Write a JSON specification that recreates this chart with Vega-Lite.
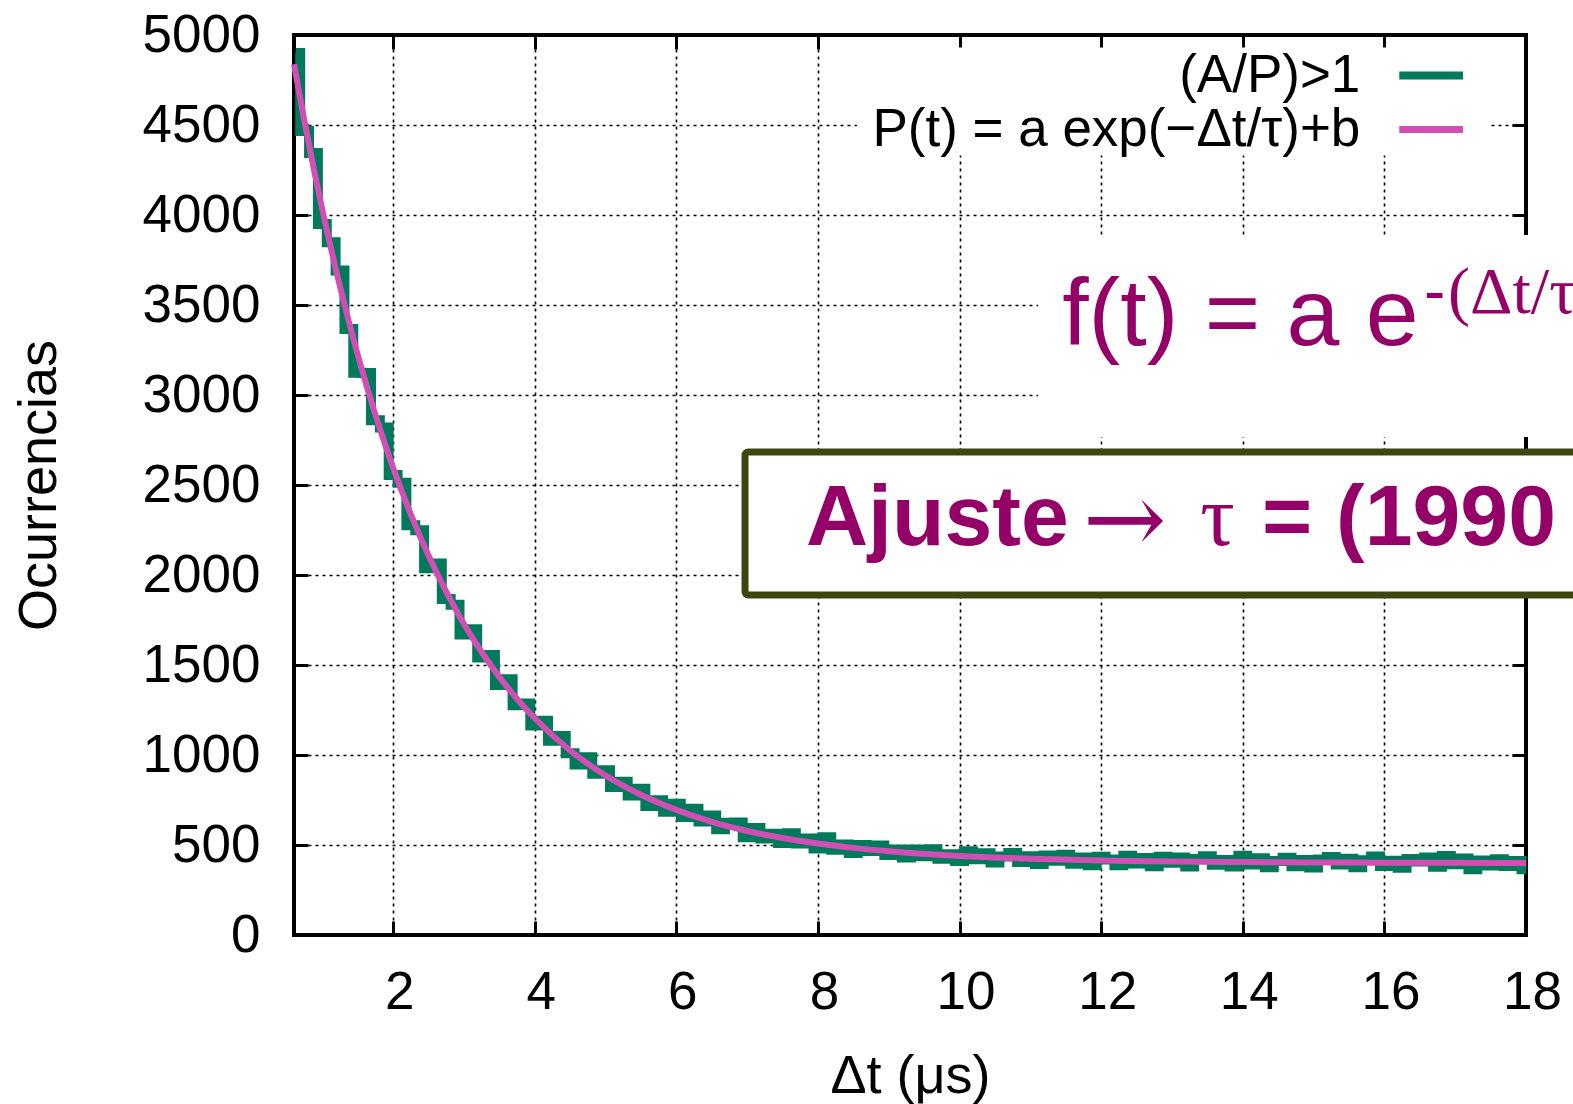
{
  "$schema": "https://vega.github.io/schema/vega-lite/v6.json",
  "width": 1232,
  "height": 900,
  "autosize": {"type": "none"},
  "padding": {"left": 294, "top": 35, "right": 47, "bottom": 169},
  "background": "white",
  "config": {
    "view": {"stroke": "black", "strokeWidth": 4},
    "font": "Liberation Sans",
    "axis": {
      "labelFont": "Liberation Sans", "labelFontSize": 53, "labelColor": "black",
      "tickColor": "black", "tickWidth": 3, "tickSize": -14, "domain": false,
      "titleFont": "Liberation Sans", "titleFontSize": 54, "titleFontWeight": "normal", "titleColor": "black",
      "gridColor": "black", "gridDash": [3, 4], "gridWidth": 1.6, "gridOpacity": 1
    }
  },
  "datasets": {
    "hist": [
      {"t":0.625,"n":4900},{"t":0.75,"n":4466},{"t":0.875,"n":4345},{"t":1.0,"n":3950},{"t":1.125,"n":3849},
      {"t":1.25,"n":3692},{"t":1.375,"n":3367},{"t":1.5,"n":3124},{"t":1.625,"n":3122},{"t":1.75,"n":2860},
      {"t":1.875,"n":2819},{"t":2.0,"n":2556},{"t":2.125,"n":2513},{"t":2.25,"n":2277},{"t":2.375,"n":2249},
      {"t":2.5,"n":2038},{"t":2.625,"n":2064},{"t":2.75,"n":1867},{"t":2.875,"n":1835},{"t":3.0,"n":1669},
      {"t":3.125,"n":1698},{"t":3.25,"n":1542},{"t":3.375,"n":1556},{"t":3.5,"n":1389},{"t":3.625,"n":1421},
      {"t":3.75,"n":1277},{"t":3.875,"n":1286},{"t":4.0,"n":1164},{"t":4.125,"n":1190},{"t":4.25,"n":1079},
      {"t":4.375,"n":1106},{"t":4.5,"n":1010},{"t":4.625,"n":947},{"t":4.75,"n":987},{"t":4.875,"n":896},
      {"t":5.0,"n":915},{"t":5.125,"n":822},{"t":5.25,"n":852},{"t":5.375,"n":775},{"t":5.5,"n":812},
      {"t":5.625,"n":716},{"t":5.75,"n":748},{"t":5.875,"n":685},{"t":6.0,"n":729},{"t":6.125,"n":655},
      {"t":6.25,"n":702},{"t":6.375,"n":630},{"t":6.5,"n":664},{"t":6.625,"n":587},{"t":6.75,"n":623},
      {"t":6.875,"n":625},{"t":7.0,"n":543},{"t":7.125,"n":595},{"t":7.25,"n":536},{"t":7.375,"n":562},
      {"t":7.5,"n":511},{"t":7.625,"n":565},{"t":7.75,"n":508},{"t":7.875,"n":536},{"t":8.0,"n":480},
      {"t":8.125,"n":543},{"t":8.25,"n":474},{"t":8.375,"n":503},{"t":8.5,"n":456},{"t":8.625,"n":500},
      {"t":8.75,"n":467},{"t":8.875,"n":497},{"t":9.0,"n":444},{"t":9.125,"n":475},{"t":9.25,"n":430},
      {"t":9.375,"n":475},{"t":9.5,"n":437},{"t":9.625,"n":476},{"t":9.75,"n":424},{"t":9.875,"n":449},
      {"t":10.0,"n":411},{"t":10.125,"n":465},{"t":10.25,"n":421},{"t":10.375,"n":454},{"t":10.5,"n":403},
      {"t":10.625,"n":436},{"t":10.75,"n":455},{"t":10.875,"n":405},{"t":11.0,"n":438},{"t":11.125,"n":394},
      {"t":11.25,"n":442},{"t":11.375,"n":413},{"t":11.5,"n":446},{"t":11.625,"n":396},{"t":11.75,"n":430},
      {"t":11.875,"n":387},{"t":12.0,"n":435},{"t":12.125,"n":420},{"t":12.25,"n":388},{"t":12.375,"n":440},
      {"t":12.5,"n":397},{"t":12.625,"n":428},{"t":12.75,"n":382},{"t":12.875,"n":435},{"t":13.0,"n":402},
      {"t":13.125,"n":430},{"t":13.25,"n":380},{"t":13.375,"n":422},{"t":13.5,"n":438},{"t":13.625,"n":390},
      {"t":13.75,"n":417},{"t":13.875,"n":381},{"t":14.0,"n":440},{"t":14.125,"n":391},{"t":14.25,"n":426},
      {"t":14.375,"n":376},{"t":14.5,"n":411},{"t":14.625,"n":429},{"t":14.75,"n":382},{"t":14.875,"n":417},
      {"t":15.0,"n":375},{"t":15.125,"n":419},{"t":15.25,"n":433},{"t":15.375,"n":391},{"t":15.5,"n":423},
      {"t":15.625,"n":376},{"t":15.75,"n":415},{"t":15.875,"n":436},{"t":16.0,"n":384},{"t":16.125,"n":412},
      {"t":16.25,"n":373},{"t":16.375,"n":422},{"t":16.5,"n":408},{"t":16.625,"n":431},{"t":16.75,"n":379},
      {"t":16.875,"n":439},{"t":17.0,"n":393},{"t":17.125,"n":425},{"t":17.25,"n":365},{"t":17.375,"n":414},
      {"t":17.5,"n":386},{"t":17.625,"n":421},{"t":17.75,"n":383},{"t":17.875,"n":411},{"t":18.0,"n":365}
    ],
    "fit": [
      {"t":0.6,"f":4838},{"t":0.75,"f":4516},{"t":1.0,"f":4030},{"t":1.25,"f":3602},{"t":1.5,"f":3224},
      {"t":1.75,"f":2890},{"t":2.0,"f":2596},{"t":2.25,"f":2337},{"t":2.5,"f":2108},{"t":2.75,"f":1907},
      {"t":3.0,"f":1728},{"t":3.25,"f":1572},{"t":3.5,"f":1434},{"t":3.75,"f":1311},{"t":4.0,"f":1204},
      {"t":4.5,"f":1025},{"t":5.0,"f":886},{"t":5.5,"f":779},{"t":6.0,"f":695},{"t":6.5,"f":629},
      {"t":7.0,"f":578},{"t":7.5,"f":539},{"t":8.0,"f":508},{"t":8.5,"f":484},{"t":9.0,"f":465},
      {"t":10.0,"f":439},{"t":11.0,"f":424},{"t":12.0,"f":414},{"t":13.0,"f":409},{"t":14.0,"f":405},
      {"t":15.0,"f":403},{"t":16.0,"f":402},{"t":17.0,"f":401},{"t":18.0,"f":400}
    ],
    "one": [{}]
  },
  "layer": [
    {
      "data": {"name": "hist"},
      "mark": {"type": "line", "interpolate": "step", "color": "#007a5a", "strokeWidth": 10},
      "encoding": {
        "x": {"field": "t", "type": "quantitative", "scale": {"domain": [0.6, 18], "nice": false, "zero": false},
          "axis": {"orient": "bottom", "values": [2,4,6,8,10,12,14,16,18], "grid": true, "title": "Δt (μs)", "labelPadding": 45, "labelFlush": false, "labelOffset": 6, "titlePadding": 30, "format": "d"}},
        "y": {"field": "n", "type": "quantitative", "scale": {"domain": [0, 5000], "nice": false},
          "axis": {"orient": "left", "values": [0,500,1000,1500,2000,2500,3000,3500,4000,4500,5000], "grid": true, "title": "Ocurrencias", "labelPadding": 48, "titlePadding": 76, "format": "d"}}
      }
    },
    {
      "data": {"name": "fit"},
      "mark": {"type": "line", "interpolate": "monotone", "color": "#d14fb4", "strokeWidth": 6},
      "encoding": {
        "x": {"field": "t", "type": "quantitative", "scale": {"domain": [0.6, 18], "nice": false, "zero": false},
          "axis": {"orient": "top", "values": [2,4,6,8,10,12,14,16], "grid": false, "labels": false, "title": null}},
        "y": {"field": "f", "type": "quantitative", "scale": {"domain": [0, 5000], "nice": false},
          "axis": {"orient": "right", "values": [500,1000,1500,2000,2500,3000,3500,4000,4500], "grid": false, "labels": false, "title": null}}
      }
    },
    {
      "data": {"name": "one"},
      "mark": {"type": "rect", "fill": "white"},
      "encoding": {
        "x": {"datum": 8.55, "type": "quantitative", "scale": {"domain": [0.6, 18], "nice": false, "zero": false}, "axis": null},
        "x2": {"datum": 17.49},
        "y": {"datum": 4930, "type": "quantitative", "scale": {"domain": [0, 5000], "nice": false}, "axis": null},
        "y2": {"datum": 4330}
      }
    },
    {
      "data": {"name": "one"},
      "mark": {"type": "text", "text": "(A/P)>1", "align": "right", "baseline": "middle", "fontSize": 53, "font": "Liberation Sans", "color": "black"},
      "encoding": {
        "x": {"datum": 15.66, "type": "quantitative", "scale": {"domain": [0.6, 18], "nice": false, "zero": false}, "axis": null},
        "y": {"datum": 4775, "type": "quantitative", "scale": {"domain": [0, 5000], "nice": false}, "axis": null}
      }
    },
    {
      "data": {"name": "one"},
      "mark": {"type": "text", "text": "P(t) = a exp(−Δt/τ)+b", "align": "right", "baseline": "middle", "fontSize": 53, "font": "Liberation Sans", "color": "black"},
      "encoding": {
        "x": {"datum": 15.66, "type": "quantitative", "scale": {"domain": [0.6, 18], "nice": false, "zero": false}, "axis": null},
        "y": {"datum": 4475, "type": "quantitative", "scale": {"domain": [0, 5000], "nice": false}, "axis": null}
      }
    },
    {
      "data": {"name": "one"},
      "mark": {"type": "rule", "color": "#007a5a", "strokeWidth": 8},
      "encoding": {
        "x": {"datum": 16.21, "type": "quantitative", "scale": {"domain": [0.6, 18], "nice": false, "zero": false}, "axis": null},
        "x2": {"datum": 17.11},
        "y": {"datum": 4775, "type": "quantitative", "scale": {"domain": [0, 5000], "nice": false}, "axis": null}
      }
    },
    {
      "data": {"name": "one"},
      "mark": {"type": "rule", "color": "#d14fb4", "strokeWidth": 7},
      "encoding": {
        "x": {"datum": 16.21, "type": "quantitative", "scale": {"domain": [0.6, 18], "nice": false, "zero": false}, "axis": null},
        "x2": {"datum": 17.11},
        "y": {"datum": 4475, "type": "quantitative", "scale": {"domain": [0, 5000], "nice": false}, "axis": null}
      }
    },
    {
      "data": {"name": "one"},
      "mark": {"type": "rect", "fill": "white"},
      "encoding": {
        "x": {"datum": 11.11, "type": "quantitative", "scale": {"domain": [0.6, 18], "nice": false, "zero": false}, "axis": null},
        "x2": {"datum": 19.5},
        "y": {"datum": 3889, "type": "quantitative", "scale": {"domain": [0, 5000], "nice": false}, "axis": null},
        "y2": {"datum": 2767}
      }
    },
    {
      "data": {"name": "one"},
      "mark": {"type": "text", "text": "f(t) = a e", "align": "left", "baseline": "alphabetic", "fontSize": 95, "font": "Liberation Sans", "color": "#950068"},
      "encoding": {
        "x": {"datum": 11.45, "type": "quantitative", "scale": {"domain": [0.6, 18], "nice": false, "zero": false}, "axis": null},
        "y": {"datum": 3278, "type": "quantitative", "scale": {"domain": [0, 5000], "nice": false}, "axis": null}
      }
    },
    {
      "data": {"name": "one"},
      "mark": {"type": "text", "text": "-", "align": "left", "baseline": "alphabetic", "fontSize": 64, "font": "Liberation Sans", "color": "#950068"},
      "encoding": {
        "x": {"datum": 16.56, "type": "quantitative", "scale": {"domain": [0.6, 18], "nice": false, "zero": false}, "axis": null},
        "y": {"datum": 3456, "type": "quantitative", "scale": {"domain": [0, 5000], "nice": false}, "axis": null}
      }
    },
    {
      "data": {"name": "one"},
      "mark": {"type": "text", "text": "(Δt/τ)", "align": "left", "baseline": "alphabetic", "fontSize": 66, "font": "Liberation Serif", "color": "#950068"},
      "encoding": {
        "x": {"datum": 16.9, "type": "quantitative", "scale": {"domain": [0.6, 18], "nice": false, "zero": false}, "axis": null},
        "y": {"datum": 3456, "type": "quantitative", "scale": {"domain": [0, 5000], "nice": false}, "axis": null}
      }
    },
    {
      "data": {"name": "one"},
      "mark": {"type": "rect", "fill": "white", "stroke": "#3c460f", "strokeWidth": 7, "cornerRadius": 3},
      "encoding": {
        "x": {"datum": 6.97, "type": "quantitative", "scale": {"domain": [0.6, 18], "nice": false, "zero": false}, "axis": null},
        "x2": {"datum": 19.5},
        "y": {"datum": 2683, "type": "quantitative", "scale": {"domain": [0, 5000], "nice": false}, "axis": null},
        "y2": {"datum": 1889}
      }
    },
    {
      "data": {"name": "one"},
      "mark": {"type": "text", "text": "Ajuste", "align": "left", "baseline": "alphabetic", "fontSize": 86, "fontWeight": "bold", "font": "Liberation Sans", "color": "#950068"},
      "encoding": {
        "x": {"datum": 7.83, "type": "quantitative", "scale": {"domain": [0.6, 18], "nice": false, "zero": false}, "axis": null},
        "y": {"datum": 2167, "type": "quantitative", "scale": {"domain": [0, 5000], "nice": false}, "axis": null}
      }
    },
    {
      "data": {"name": "one"},
      "mark": {"type": "text", "text": "→", "align": "left", "baseline": "alphabetic", "fontSize": 100, "font": "DejaVu Serif", "color": "#950068"},
      "encoding": {
        "x": {"datum": 11.74, "type": "quantitative", "scale": {"domain": [0.6, 18], "nice": false, "zero": false}, "axis": null},
        "y": {"datum": 2125, "type": "quantitative", "scale": {"domain": [0, 5000], "nice": false}, "axis": null}
      }
    },
    {
      "data": {"name": "one"},
      "mark": {"type": "text", "text": "τ", "align": "left", "baseline": "alphabetic", "fontSize": 86, "font": "Liberation Serif", "color": "#950068"},
      "encoding": {
        "x": {"datum": 13.4, "type": "quantitative", "scale": {"domain": [0.6, 18], "nice": false, "zero": false}, "axis": null},
        "y": {"datum": 2167, "type": "quantitative", "scale": {"domain": [0, 5000], "nice": false}, "axis": null}
      }
    },
    {
      "data": {"name": "one"},
      "mark": {"type": "text", "text": "= (1990", "align": "left", "baseline": "alphabetic", "fontSize": 86, "fontWeight": "bold", "font": "Liberation Sans", "color": "#950068"},
      "encoding": {
        "x": {"datum": 14.27, "type": "quantitative", "scale": {"domain": [0.6, 18], "nice": false, "zero": false}, "axis": null},
        "y": {"datum": 2167, "type": "quantitative", "scale": {"domain": [0, 5000], "nice": false}, "axis": null}
      }
    }
  ],
  "resolve": {"axis": {"x": "independent", "y": "independent"}}
}
